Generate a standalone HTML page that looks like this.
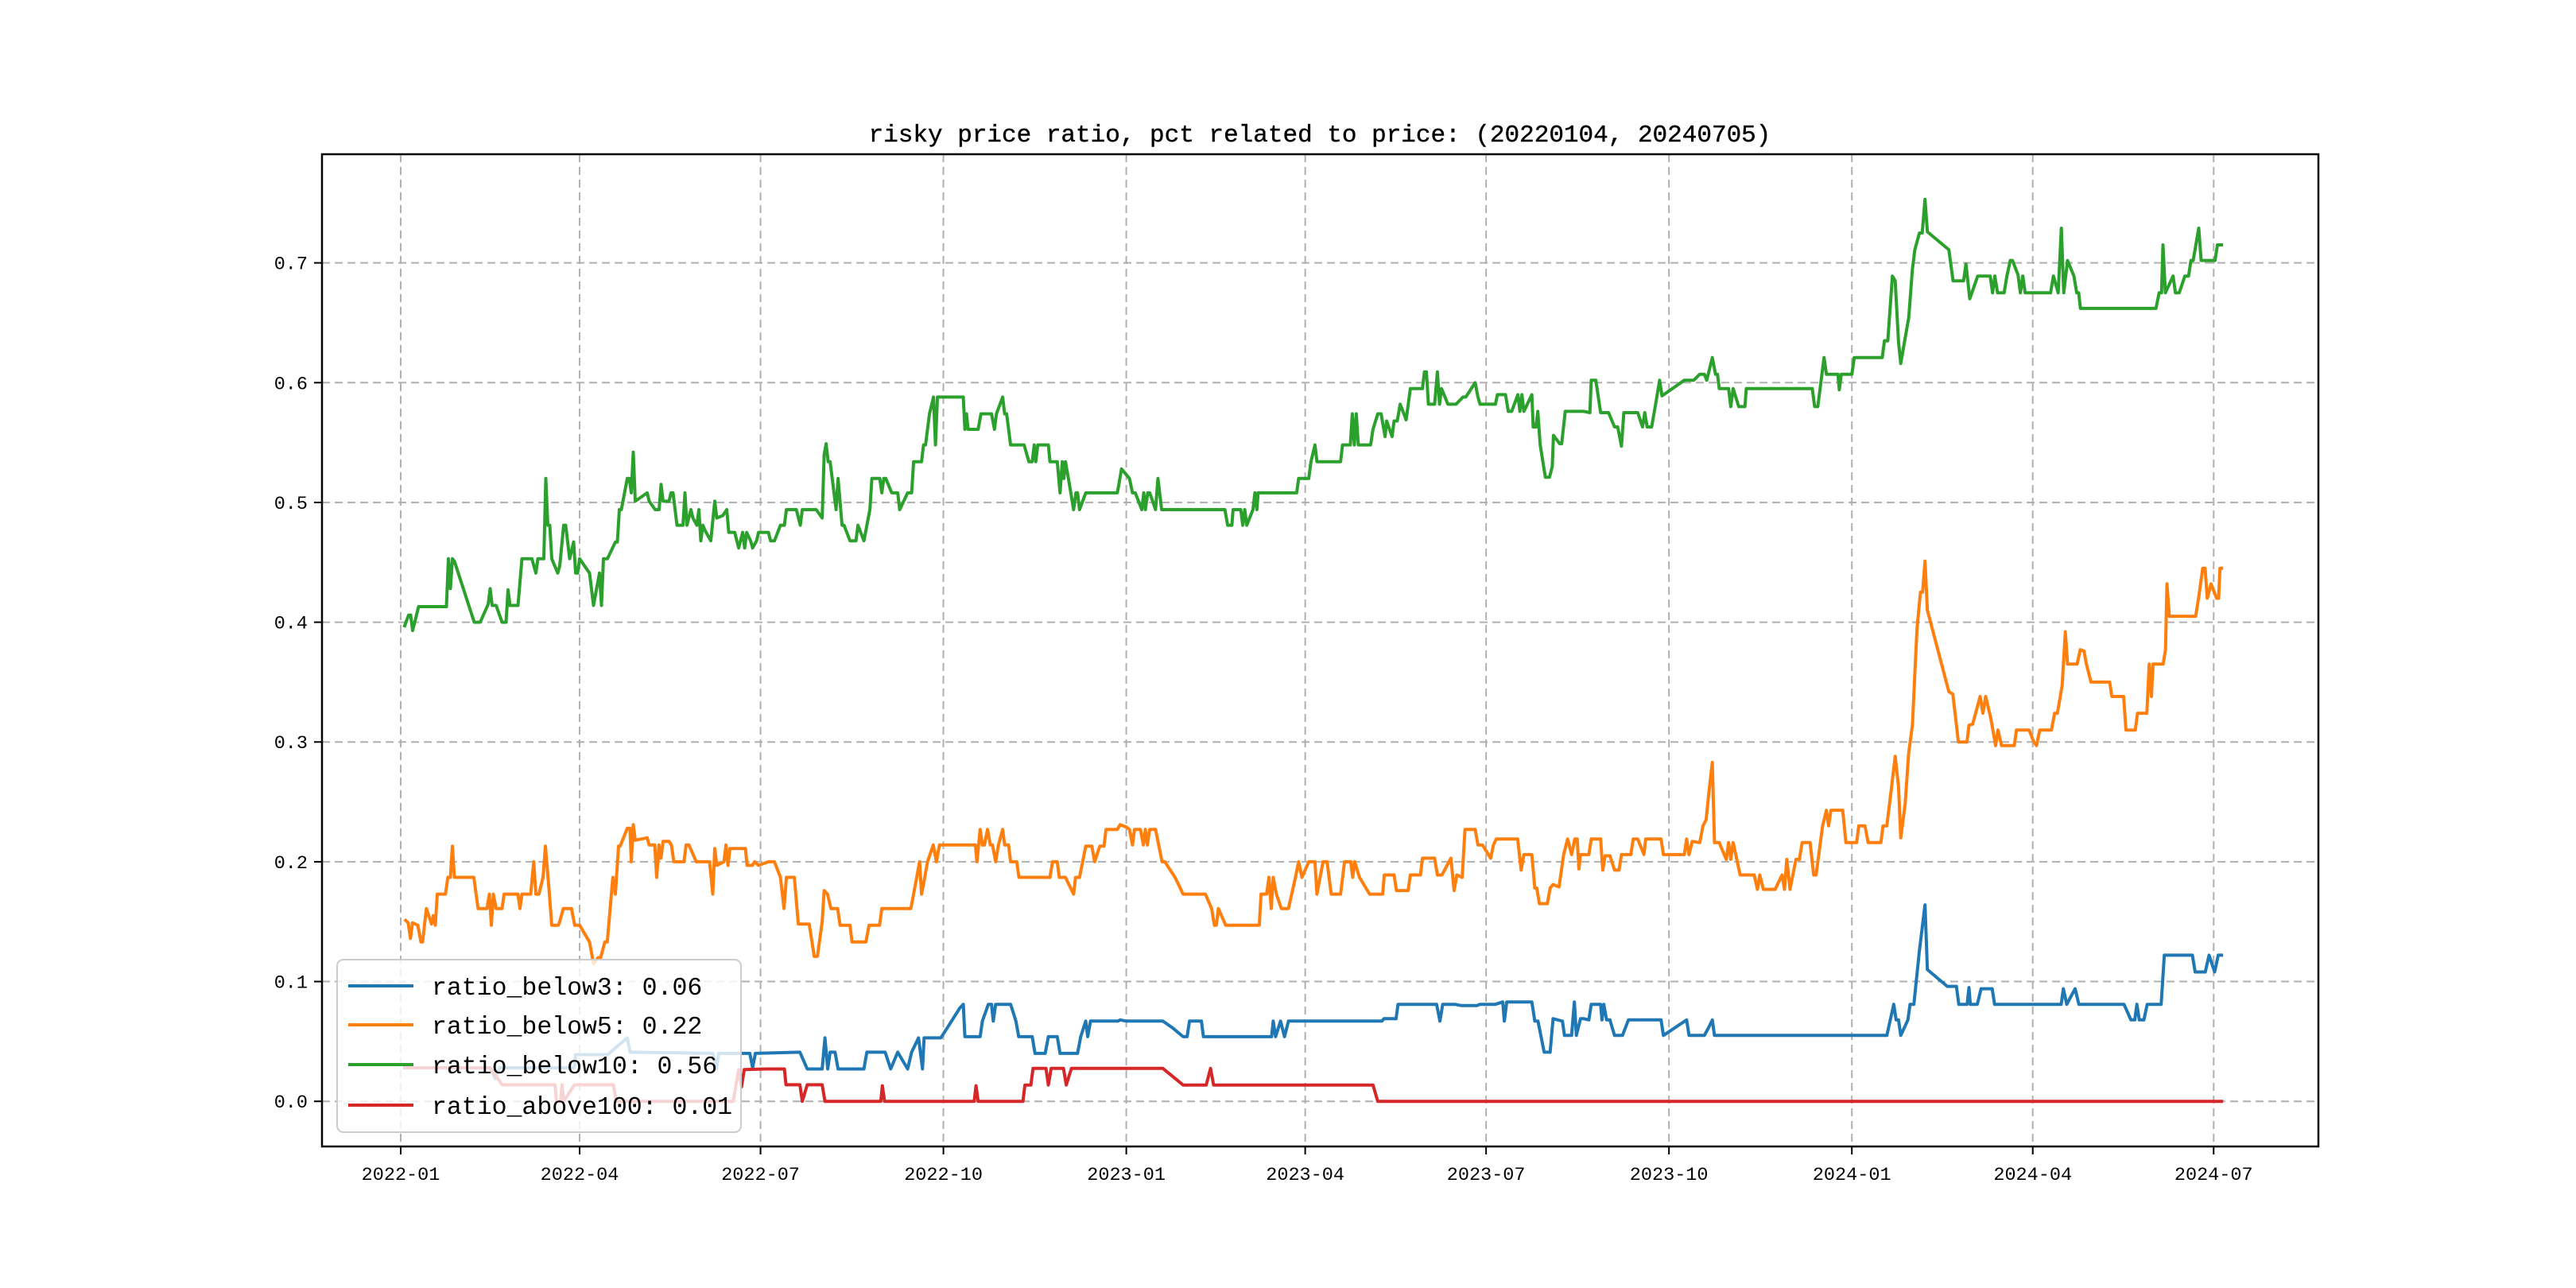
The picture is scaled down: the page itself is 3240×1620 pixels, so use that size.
<!DOCTYPE html>
<html>
<head>
<meta charset="utf-8">
<style>
html,body{margin:0;padding:0;background:#fff;}
svg{display:block;}
text{font-family:"Liberation Mono","Noto Sans CJK SC",monospace;fill:#000;}
</style>
</head>
<body>
<svg id="chart" width="3240" height="1620" viewBox="0 0 3240 1620" xmlns="http://www.w3.org/2000/svg">
<rect x="0" y="0" width="3240" height="1620" fill="#ffffff"/>
<g id="grid"></g>
<g id="series"></g>
<rect x="405" y="194" width="2511" height="1248" fill="none" stroke="#000" stroke-width="2.5"/>
<g id="ticks"></g>
<text x="1660" y="178" font-size="31" text-anchor="middle" stroke="#000" stroke-width="0.4">risky price ratio, pct related to price: (20220104, 20240705)</text>
<g id="legend"></g>
</svg>
<script>
// days since 2022-01-01
const xTickDays = [0,90,181,273,365,455,546,638,730,821,912];
const xTickLabels = ["2022-01","2022-04","2022-07","2022-10","2023-01","2023-04","2023-07","2023-10","2024-01","2024-04","2024-07"];
const yTickValues = [0,0.1,0.2,0.3,0.4,0.5,0.6,0.7];
const yTickLabels = ["0.0","0.1","0.2","0.3","0.4","0.5","0.6","0.7"];
const seriesNames = ["ratio_below3","ratio_below5","ratio_below10","ratio_above100"];
const legendValues = ["0.06","0.22","0.56","0.01"];

const below3Points = [[2,.028],[45,.028],[47.6,.019],[49.6,.028],[87.4,.028],[88,.039],[104,.039],[114,.053],[115.4,.041],[157,.040],[158.8,.027],[160,.040],[175.6,.040],[177,.028],[178.4,.040],[200.8,.041],[204.5,.027],[212,.027],[213.4,.053],[214.8,.027],[216,.041],[218.5,.041],[220,.027],[233,.027],[234.5,.041],[243.7,.041],[246.5,.027],[250,.041],[255,.027],[257,.041],[260.5,.053],[262.5,.027],[263.3,.053],[271.7,.053],
[275.2,.062],[281.3,.078],[283,.081],[283.8,.054],[291.5,.054],[292.6,.067],[295.6,.081],[297.2,.081],[298.1,.067],[299.3,.081],[306.8,.081],[309.5,.067],[310.9,.054],[317.7,.054],[319.1,.040],[324.2,.040],[325.8,.054],[330.3,.054],[331.7,.040],[340.5,.040],[342.1,.054],[344.6,.067],[345.6,.054],[347,.067],[360.9,.067],[361.9,.068],[365,.067],[383.4,.067],[388.5,.061],[393.6,.054],[395.6,.054],[396.8,.067],[402.8,.067],[403.8,.054],[438.1,.054],[438.9,.067],[440.1,.054],[442.6,.067],[444.6,.054],[446.6,.067],[493.6,.067],[494.6,.069],[500.7,.069],[501.7,.081],[521.1,.081],[522.8,.067],[524.2,.081],[530.3,.081],[533.4,.080],[541.5,.080],[542.9,.081],[550.7,.081],[554.4,.083],[555.2,.067],[556.4,.083],[569,.083],[570.5,.067],[572.1,.067],[575.2,.041],[578.2,.041],[579.7,.069],[584.4,.067],[585.4,.055],[589,.055],[590.4,.083],[591.4,.055],[593.5,.069],[595.2,.069],
[597.7,.068],[598.9,.081],[603.6,.081],[604.3,.068],[605.2,.081],[606.6,.068],[608.3,.068],[610.6,.055],[614.6,.055],[617.6,.068],[634,.068],[635.2,.055],[646.9,.068],[648.1,.055],[655.8,.055],[658.1,.062],[659.8,.068],[660.9,.055],[747.6,.055],[751.1,.081],[752.3,.068],[753.5,.068],[754.6,.055],[758.2,.068],[759.3,.081],[761.2,.081],[764,.126],[766.8,.164],[768,.110],[778,.096],[782.6,.096],[783.8,.081],[788,.081],[788.9,.095],[789.6,.081],[793.1,.081],[795,.094],[800.6,.094],[801.8,.081],[835.3,.081],[836.4,.094],[838.1,.081],[842.3,.094],[844.2,.081],[866.9,.081],[870.4,.068],[872.3,.068],[873.4,.081],[874.6,.068],[876.9,.068],[878.6,.081],[885.6,.081],[887.2,.122],[901.3,.122],[902.7,.108],[907.8,.108],[909.7,.122],[912.5,.108],[914.3,.122],[916,.122]];

const below5Points = [[2.5,.151],[3.7,.149],[4.9,.136],[5.9,.149],[8.6,.147],[10.2,.133],[11,.133],[12.9,.161],[15.5,.148],[16.4,.155],[17.4,.147],[18.4,.173],[22.5,.173],[23.7,.187],[25,.187],[26,.213],[27,.187],[36.8,.187],[38.9,.161],[43.4,.161],[44.6,.173],[45.6,.147],[46.6,.173],[48,.161],[51,.161],[52,.173],[59,.173],[60,.161],[61,.173],[65.4,.173],[66.9,.200],[68,.173],[69.5,.173],[71.6,.187],[72.8,.213],[74.8,.173],[76,.147],[79.3,.147],[80,.150],[81.8,.161],[85.9,.161],[87.5,.147],[90,.147],[95,.133],[97,.115],[99.4,.120],[100.6,.120],[102.7,.133],[103.9,.133],[106.7,.187],[108,.173],[109.6,.213],[110.4,.213],[114,.228],[115.3,.228],[116,.200],[117,.231],[118,.218],[124,.220],[125,.214],[127.8,.214],[128.8,.187],[129.9,.214],[130.9,.203],[132,.217],[135,.217],[136.2,.214],[137.4,.200],[142.5,.200],[143.6,.214],[145,.214],[148.7,.200],[155.4,.200],[157,.173],[158,.211],[159,.197],[162.6,.200],[163.6,.214],[164.6,.197],[165.6,.211],[173.4,.211],[174.2,.197],[177,.197],[178,.200],[180,.197],[185,.200],[188,.200],[191,.187],[192.8,.161],[194,.187],[198,.187],[200,.148],[205.5,.148],[208,.121],[209.6,.121],[212,.150],[213,.176],[214.7,.173],[216.4,.161],[219.8,.161],[221,.147],[226,.147],[227,.133],[234,.133],[235.6,.147],[240.9,.147],[242,.161],[256.6,.161],[258,.173],[261,.200],[262,.173],[263.6,.187],[265,.200],[267.9,.214],[269.5,.200],[271,.214],[275.2,.214],
[289.1,.214],[289.9,.200],[291.5,.227],[292.6,.214],[293.6,.214],[295.2,.227],[296.6,.214],[297.7,.214],[299.3,.200],[300.7,.214],[302.8,.227],[303.8,.214],[305.8,.214],[306.8,.200],[309.9,.200],[311,.187],[326.6,.187],[327.9,.200],[330.3,.200],[331.3,.187],[334.4,.187],[338.5,.173],[339.5,.187],[341.5,.187],[344.6,.213],[347.7,.213],[349.1,.200],[351.7,.213],[353.8,.213],[354.8,.227],[360.5,.227],[361.9,.231],[365,.229],[366.6,.227],[368.1,.214],[369.1,.227],[372.1,.227],[373.6,.214],[374.6,.227],[375.6,.214],[376.8,.227],[379.7,.227],[383,.200],[384.4,.200],[389.5,.187],[393.6,.173],[404.8,.173],[407.9,.161],[409.3,.147],[410.3,.147],[411.3,.161],[415,.147],[431.9,.147],[432.8,.173],[435.6,.173],[436.8,.187],[437.9,.161],[438.9,.187],[440.5,.173],[443,.161],[446.6,.161],[450.1,.187],[451.7,.200],[453.4,.187],[456.8,.200],[459.9,.200],[460.9,.173],[464,.200],[466,.200],[468.1,.173],[472.8,.173],[474.8,.200],[477.9,.200],[478.9,.187],[479.9,.200],[482.3,.187],[487.4,.173],[494,.173],[494.8,.189],[499.7,.189],[500.9,.176],[506.8,.176],[507.9,.189],[513,.189],[514,.203],[520.1,.203],[521.5,.189],[523.8,.189],[528.3,.203],[529.9,.176],[531.3,.189],[534,.187],[535.4,.227],[540.5,.227],[541.9,.214],[544.2,.214],[548.3,.203],[549.7,.214],[551.1,.219],[561.9,.219],[563.6,.193],[565,.206],[569,.206],[570.5,.178],[571.5,.178],[572.8,.165],[576.8,.165],[578.2,.178],[579.7,.181],[582.7,.179],[585,.206],[587,.219],[589,.206],[590.6,.219],[591.8,.219],[592.7,.194],[593.5,.206],[595.2,.206],
[597.7,.206],[598.9,.219],[603.6,.219],[604.7,.193],[605.9,.205],[608.3,.205],[610.6,.193],[612.9,.193],[614.1,.206],[618.8,.206],[620,.219],[622.3,.219],[625.4,.206],[626.3,.219],[634,.219],[635.2,.206],[645.7,.206],[646.9,.219],[648.1,.206],[649.7,.217],[653.5,.216],[655.1,.230],[656.7,.235],[658.1,.258],[659.8,.283],[660.9,.216],[663.3,.216],[666.8,.202],[668,.216],[669.1,.202],[670.3,.216],[673.8,.189],[680.9,.189],[682.5,.177],[683.7,.189],[685.5,.177],[691.4,.177],[694.9,.189],[696.1,.177],[697.3,.202],[698.9,.177],[701.9,.202],[703.6,.202],[705,.216],[709,.216],[710.8,.189],[712,.189],[715.3,.230],[717.2,.243],[718.3,.230],[719.5,.243],[725.4,.243],[727,.216],[732.4,.216],[733.5,.230],[736.6,.230],[738.2,.216],[744.6,.216],[745.7,.230],[747.6,.230],[749.9,.261],[751.8,.288],[753.5,.263],[754.6,.220],[756.8,.248],[758.6,.291],[760.5,.314],[761.7,.357],[762.8,.395],[764.5,.425],[765.6,.425],[766.8,.451],[768,.410],[778.8,.342],[780.8,.340],[783.6,.300],[787.9,.300],[788.9,.314],[790.8,.315],[794.5,.338],[795.9,.324],[797.3,.338],[800,.319],[802.3,.297],[803.5,.310],[805.3,.297],[811.7,.297],[812.8,.310],[819.2,.310],[821.5,.300],[822.9,.297],[824.5,.310],[830.4,.310],[832,.324],[833.4,.324],[835.8,.347],[837.4,.392],[838.5,.365],[843.3,.365],[844.9,.377],[846.8,.376],[848,.365],[850.3,.350],[859.7,.350],[860.8,.338],[866.7,.338],[867.9,.310],[872.6,.310],[873.7,.324],[878.4,.324],[879.6,.365],[880.7,.338],[881.5,.365],[886.6,.365],[887.8,.377],[888.5,.432],[889.7,.405],[903,.405],[904.6,.422],[906.5,.445],[907.7,.445],[908.8,.420],[910.7,.432],[913.5,.420],[914.5,.420],[915.2,.445],[916,.445]];

const below10Points = [[2,.397],[4,.406],[5,.406],[6,.393],[9,.413],[23,.413],[24,.453],[25,.428],[26,.453],[27,.451],[37,.400],[40,.400],[44,.415],[45,.428],[46,.414],[48,.414],[51,.400],[53,.400],[54,.427],[55,.414],[59,.414],[61,.453],[66,.453],[68,.441],[69,.453],[72,.453],[73,.520],[74,.481],[75,.481],[76,.453],[79,.441],[80,.447],[82,.481],[83,.481],[85,.453],[87,.467],[88,.441],[89,.441],[90,.453],[95,.441],[97,.414],[100,.441],[101,.414],[102,.453],[104,.453],[108,.467],[109,.467],[110,.494],[111,.494],[114,.520],[115,.520],[116,.508],[117,.542],[118,.501],[124,.508],[125,.501],[128,.494],[130,.494],[131,.515],[132,.501],[135,.501],[136,.508],[137,.508],[139,.481],[142,.481],[143,.508],[144,.481],[146,.494],[147,.487],[149,.481],[150,.494],[151,.468],[152,.481],[153,.477],[156,.468],[158,.501],[159,.487],[162,.489],[164,.494],[165,.475],[168,.475],[170,.462],[172,.475],[173,.462],[174,.475],[176,.468],[177,.462],[179,.468],[180,.475],[185,.475],[186,.468],[188,.468],[191,.481],[193,.481],[194,.494],[199,.494],[201,.481],[202,.494],[209,.494],[212,.487],[213,.540],[214,.549],[215,.534],[216,.534],[219,.494],[220,.520],[222,.481],[223,.481],[226,.468],[229,.468],[230,.481],[233,.468],[236,.494],[237,.520],[241,.520],[242,.508],[243,.520],[244,.520],[247,.508],[250,.508],[251,.494],[255,.508],[257,.508],[258,.534],[262,.534],[263,.548],[264,.548],[266,.574],[268,.588],[269,.548],[270,.588],
[283,.588],[283.8,.561],[284.6,.574],[285.4,.561],[290.5,.561],[291.9,.574],[297.2,.574],[298.7,.561],[299.7,.574],[302.8,.588],[303.8,.574],[304.8,.574],[306.8,.548],[313.6,.548],[316,.534],[317.7,.534],[318.7,.548],[319.5,.534],[320.5,.548],[325.8,.548],[326.6,.534],[330.3,.534],[331.7,.508],[332.8,.534],[333.6,.520],[334.4,.534],[336.4,.515],[338.5,.494],[339.7,.508],[340.5,.508],[341.5,.494],[344.6,.508],[360.5,.508],[361.3,.515],[362.6,.528],[366.6,.520],[368.1,.508],[369.5,.508],[372.8,.494],[373.8,.508],[374.6,.494],[375.8,.508],[376.8,.508],[379.7,.494],[380.9,.520],[382.8,.494],[414.6,.494],[416,.481],[418.1,.481],[418.7,.494],[422.6,.494],[423.6,.481],[424.6,.494],[425.6,.481],[428.7,.494],[429.7,.508],[430.7,.494],[431.3,.508],[450.7,.508],[451.7,.520],[456.8,.520],[457.9,.534],[459.9,.548],[460.9,.534],[472.8,.534],[473.8,.548],[477.7,.548],[478.7,.574],[479.7,.548],[480.7,.574],[481.7,.548],[487.9,.548],[489.1,.561],[491.5,.574],[493.2,.574],[495.2,.555],[496,.568],[498.7,.555],[499.7,.568],[501.3,.568],[502.8,.582],[505.8,.569],[507.9,.595],[514,.595],[515,.609],[516,.609],[517,.582],[520.1,.582],[521.5,.609],[522.6,.582],[523.6,.595],[526.8,.582],[530.9,.582],[534.4,.588],[535.8,.588],[540.5,.600],[541.9,.588],[543,.582],[550.7,.582],[551.7,.590],[555.8,.590],[557.2,.576],[558.9,.576],[562,.590],[563,.576],[564,.590],[565,.576],[569,.590],[569.7,.563],[571.1,.563],[572,.576],[573.2,.548],[575.8,.521],[577.9,.521],[579.3,.530],[579.9,.556],[583,.549],[584,.549],[585.8,.576],[595.2,.576],
[598.2,.575],[598.9,.602],[601.2,.602],[603.6,.575],[607.6,.575],[610.6,.563],[612.2,.563],[614.1,.547],[615.3,.575],[622.3,.575],[624.7,.563],[625.8,.575],[627,.563],[629.3,.563],[631.7,.586],[633.3,.602],[634.5,.589],[645.7,.602],[650.4,.602],[653.5,.607],[655.8,.607],[657,.602],[659.8,.621],[661.4,.607],[662.4,.607],[663.3,.595],[668,.595],[669.1,.580],[670.3,.595],[673.1,.580],[676.2,.580],[676.9,.595],[710.1,.595],[711.3,.580],[712.9,.580],[716,.621],[717.2,.607],[723,.607],[723.7,.594],[724.7,.607],[730,.607],[731.2,.621],[745.3,.621],[746.4,.635],[748.1,.635],[750.4,.689],[751.8,.685],[753.5,.634],[754.6,.616],[757,.639],[758.6,.654],[760.5,.695],[761.7,.711],[764,.725],[765.4,.725],[766.8,.753],[768,.726],[778.8,.711],[780.9,.685],[786.2,.685],[787.4,.699],[789.3,.670],[793.3,.689],[799.6,.689],[800.8,.675],[801.9,.689],[803.3,.675],[806.6,.675],[808,.689],[809.7,.702],[810.8,.702],[813.6,.690],[814.8,.675],[816,.689],[817.2,.675],[830,.675],[831.4,.689],[833.8,.675],[835.4,.729],[836.6,.675],[838.5,.702],[841.7,.689],[843.1,.675],[844.1,.675],[845,.662],[883,.662],[884.6,.675],[885.8,.675],[886.5,.715],[887.7,.675],[891.6,.689],[892.8,.675],[894.7,.675],[897.5,.689],[899.4,.689],[900.6,.702],[901.7,.702],[904.5,.729],[905.7,.702],[912.7,.702],[913.9,.715],[916,.715]];

const above100Points = [[2,.028],[45,.028],[51,.0138],[77.6,.0138],[78.4,0],[80.4,0],[81.2,.0138],[82,0],[87.4,.0138],[107,.0138],[108.4,0],[167.2,0],[170,.0265],[171.4,.012],[172.8,.0265],[184,.027],[193,.027],[193.8,.0138],[200.8,.0138],[202,0],[204.5,.0138],[212,.0138],[213.4,0],[241.5,0],[242.3,.013],[243.4,0],[288.5,0],[289.4,.013],[290.5,0],[313,0],[314,.0136],[317,.0136],[318.1,.0275],[324.6,.0275],[325.8,.0136],[327.2,.0275],[333.4,.0275],[334.8,.0136],[337.4,.0275],[383.4,.0275],[393.6,.0136],[405.2,.0136],[407.4,.0275],[408.9,.0136],[489.1,.0136],[491.5,0],[916,0]];

const NS = "http://www.w3.org/2000/svg";
const AX = {left:405, right:2916, top:194, bottom:1442};
const XMIN = -39.6, XMAX = 964.7, YMIN = -0.0377, YMAX = 0.7907;
function xScale(d){ return AX.left + (d - XMIN) * (AX.right - AX.left) / (XMAX - XMIN); }
function yScale(v){ return AX.bottom - (v - YMIN) * (AX.bottom - AX.top) / (YMAX - YMIN); }
function mk(tag, attrs){ const e = document.createElementNS(NS, tag); for (const k in attrs) e.setAttribute(k, attrs[k]); return e; }

const grid = document.getElementById('grid');
const ticks = document.getElementById('ticks');
xTickDays.forEach((d, i) => {
  const x = xScale(d);
  const gl = mk('line', {x1:x, x2:x, y1:AX.top, y2:AX.bottom, stroke:'#b0b0b0', 'stroke-width':2, 'stroke-dasharray':'10,6'});
  
  
  grid.appendChild(gl);
  const tk = mk('line', {x1:x, x2:x, y1:AX.bottom, y2:AX.bottom + 10, stroke:'#000', 'stroke-width':2});
  
  
  ticks.appendChild(tk);
  const t = mk('text', {x:x, y:AX.bottom + 42, 'font-size':23.5, 'text-anchor':'middle'});
  t.textContent = xTickLabels[i];
  
  
  ticks.appendChild(t);
});
yTickValues.forEach((v, i) => {
  const y = yScale(v);
  const gl = mk('line', {x1:AX.left, x2:AX.right, y1:y, y2:y, stroke:'#b0b0b0', 'stroke-width':2, 'stroke-dasharray':'10,6'});
  
  
  grid.appendChild(gl);
  const tk = mk('line', {x1:AX.left - 10, x2:AX.left, y1:y, y2:y, stroke:'#000', 'stroke-width':2});
  
  
  ticks.appendChild(tk);
  const t = mk('text', {x:AX.left - 18, y:y + 8, 'font-size':23.5, 'text-anchor':'end'});
  t.textContent = yTickLabels[i];
  
  
  ticks.appendChild(t);
});

const seriesData = [below3Points, below5Points, below10Points, above100Points];
const colors = ['#1f77b4','#ff7f0e','#2ca02c','#d62728'];
const seriesG = document.getElementById('series');
seriesData.forEach((pts, i) => {
  const d = pts.map((p, j) => (j ? 'L' : 'M') + xScale(p[0]).toFixed(1) + ',' + yScale(p[1]).toFixed(1)).join(' ');
  const path = mk('path', {d:d, fill:'none', stroke:colors[i], 'stroke-width':4, 'stroke-linejoin':'round', 'stroke-linecap':'square'});
  
  
  seriesG.appendChild(path);
});

const legend = document.getElementById('legend');
const box = mk('rect', {x:424, y:1207, width:508, height:217, rx:8, fill:'#ffffff', 'fill-opacity':0.8, stroke:'#cccccc', 'stroke-width':2});


legend.appendChild(box);
const rowY = [1240, 1289, 1339, 1390];
seriesNames.forEach((n, i) => {
  const ln = mk('line', {x1:438, x2:520, y1:rowY[i], y2:rowY[i], stroke:colors[i], 'stroke-width':4});
  
  
  legend.appendChild(ln);
  const t = mk('text', {x:543, y:rowY[i] + 11, 'font-size':31.5});
  t.textContent = n + ': ' + legendValues[i];
  
  
  legend.appendChild(t);
});
</script>
</body>
</html>
